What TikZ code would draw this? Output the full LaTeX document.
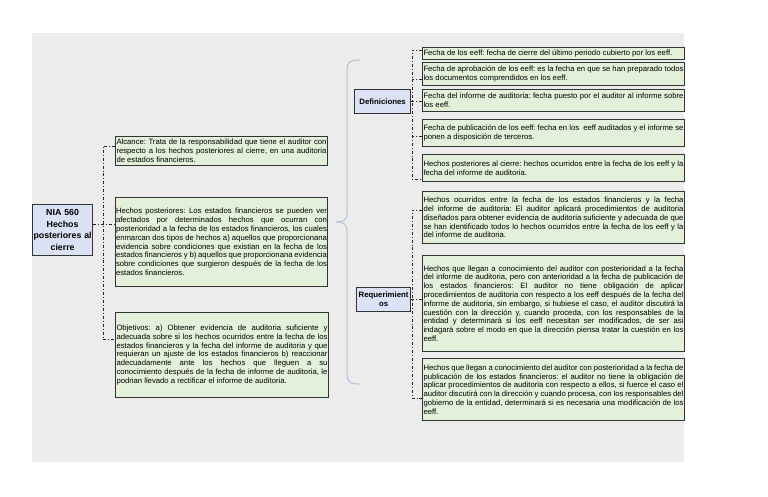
\documentclass[tikz,border=0pt]{standalone}
\usepackage{fontspec}
\setmainfont{Liberation Sans}
\usepackage{tikz}
\usetikzlibrary{arrows.meta}
\usepackage{xcolor}
\definecolor{sheetgray}{HTML}{ECECEC}
\definecolor{notegreen}{HTML}{E3F0DA}
\definecolor{headblue}{HTML}{DCE2F6}
\definecolor{bracegray}{HTML}{B4C0DC}
\definecolor{edgegray}{HTML}{333333}
\hyphenpenalty=10000
\exhyphenpenalty=10000
\frenchspacing

\begin{document}
\begin{tikzpicture}[
    x=1pt,y=-1pt,
    >=Stealth,
    font=\fontsize{7.7}{8.8}\selectfont,
    note/.style={draw=edgegray,line width=1pt,fill=notegreen,anchor=north west,
        inner xsep=1pt,inner ysep=1pt,align=justify},
    head/.style={draw=edgegray,line width=1.2pt,fill=headblue,anchor=north west,
        inner xsep=0.5pt,inner ysep=1pt,align=center,font=\fontsize{7.8}{8.8}\selectfont\bfseries},
    link/.style={draw=black!85,line width=0.9pt,dash dot},
    curlybrace/.style={draw=bracegray,line width=1pt}
]
\useasboundingbox (0,0) rectangle (768,497);
% Sheet behind the map.
\fill[sheetgray] (32,33) rectangle (684,462);

% Main topic.
\node[head,text width=60pt,minimum height=51pt,inner xsep=0pt,font=\fontsize{8.8}{11.5}\selectfont\bfseries]
    (root) at (32,204) {NIA 560\\Hechos\\posteriores al\\cierre};

% Left column of notes.
\node[note,text width=210pt,minimum height=29pt] (alcance) at (115,136)
    {Alcance: Trata de la responsabilidad que tiene el auditor con respecto a los hechos posteriores al cierre, en una auditoria de estados financieros.};
\node[note,text width=211pt,inner xsep=0.5pt,minimum height=89pt] (hposteriores) at (115,197)
    {Hechos posteriores: Los estados financieros se pueden ver\linebreak afectados por determinados hechos que ocurran con\linebreak posterioridad a la fecha de los estados financieros, los cuales\linebreak enmarcan dos tipos de hechos a) aquellos que proporcionana\linebreak evidencia sobre condiciones que existian en la fecha de los\linebreak estados financieros y b) aquellos que proporcionana evidencia\linebreak sobre condiciones que surgieron después de la fecha de los\linebreak estados financieros.};
\node[note,text width=211pt,minimum height=85pt] (objetivos) at (115,312)
    {Objetivos: a) Obtener evidencia de auditoria suficiente y adecuada sobre si los hechos ocurridos entre la fecha de los estados financieros y la fecha del informe de auditoria y que\linebreak requieran un ajuste de los estados financieros b) reaccionar\linebreak adecuadamente ante los hechos que lleguen a su\linebreak conocimiento después de la fecha de informe de auditoria, le\linebreak podrian llevado a rectificar el informe de auditoria.};

\draw[link] ([yshift=5.5pt]root.east) -- ([yshift=5.5pt]root.east -| hposteriores.west);
\draw[link] ([yshift=-10pt]alcance.north west) -- ++(-12,0) |- ([yshift=-27pt]objetivos.north west);

% Brace that groups the two branches on the right.
\draw[curlybrace] (360,60) .. controls (350,60) and (347,62) .. (347,70)
    -- (347,214) .. controls (347,220) and (343,222) .. (336,222)
    .. controls (343,222) and (347,224) .. (347,230)
    -- (347,374) .. controls (347,382) and (350,384) .. (360,384);

% Definitions branch.
\node[head,text width=55pt,minimum height=24pt] (definiciones) at (354,89) {Definiciones};
\node[note,text width=260pt,minimum height=12pt] (def1) at (422,47)
    {Fecha de los eeff: fecha de cierre del último periodo cubierto por los eeff.};
\node[note,text width=260pt,minimum height=23pt] (def2) at (422,62)
    {Fecha de aprobación de los eeff: es la fecha en que se han preparado todos los documentos comprendidos en los eeff.};
\node[note,text width=260pt,minimum height=22pt] (def3) at (422,89)
    {Fecha del informe de auditoria: fecha puesto por el auditor al informe sobre los eeff.};
\node[note,text width=260pt,minimum height=27pt] (def4) at (422,119)
    {Fecha de publicación de los eeff: fecha en los\ \ eeff auditados y el informe se ponen a disposición de terceros.};
\node[note,text width=260pt,minimum height=27pt] (def5) at (422,154)
    {Hechos posteriores al cierre: hechos ocurridos entre la fecha de los eeff y la fecha del informe de auditoria.};

\draw[link] ([yshift=-3pt]def1.north west) -- ++(-10,0) |- ([yshift=3pt]def5.south west);
\draw[link] (definiciones.east) -- (definiciones.east -| def3.west);
\draw[link] ([yshift=7pt]def2.south west) -- ++(-10,0);
\draw[link] ([yshift=11pt]def4.south west) -- ++(-10,0);

% Requirements branch.
\node[head,text width=53pt,minimum height=24pt] (requerimientos) at (356,287) {Requerimient\\os};
\node[note,text width=260pt,minimum height=52pt] (req1) at (422,191)
    {Hechos ocurridos entre la fecha de los estados financieros y la fecha del informe de auditoria: El auditor aplicará procedimientos de auditoria diseñados para obtener evidencia de auditoria suficiente y adecuada de que se han identificado todos lo hechos ocurridos entre la fecha de los eeff y la del informe de auditoria.};
\node[note,text width=260pt,minimum height=96pt] (req2) at (422,255)
    {Hechos que llegan a conocimiento del auditor con posterioridad a la fecha\linebreak del informe de auditoria, pero con anterioridad a la fecha de publicación de\linebreak los estados financieros: El auditor no tiene obligación de aplicar\linebreak procedimientos de auditoria con respecto a los eeff después de la fecha del\linebreak informe de auditoria, sin embargo, si hubiese el caso, el auditor discutirá la\linebreak cuestión con la dirección y, cuando proceda, con los responsables de la\linebreak entidad y determinará si los eeff necesitan ser modificados, de ser asi\linebreak indagará sobre el modo en que la dirección piensa tratar la cuestión en los\linebreak eeff.};
\node[note,text width=260pt,minimum height=62pt] (req3) at (422,358)
    {Hechos que llegan a conocimiento del auditor con posterioridad a la fecha de\linebreak publicación de los estados financieros: el auditor no tiene la obligación de\linebreak aplicar procedimientos de auditoria con respecto a ellos, si fuerce el caso el\linebreak auditor discutirá con la dirección y cuando procesa, con los responsables del\linebreak gobierno de la entidad, determinará si es necesaria una modificación de los\linebreak eeff.};

\draw[link] ([yshift=-19pt]req1.north west) -- ++(-10,0) |- ([yshift=23pt]req3.south west);
\draw[link] (requerimientos.east) -- (requerimientos.east -| req2.west);
\end{tikzpicture}
\end{document}
